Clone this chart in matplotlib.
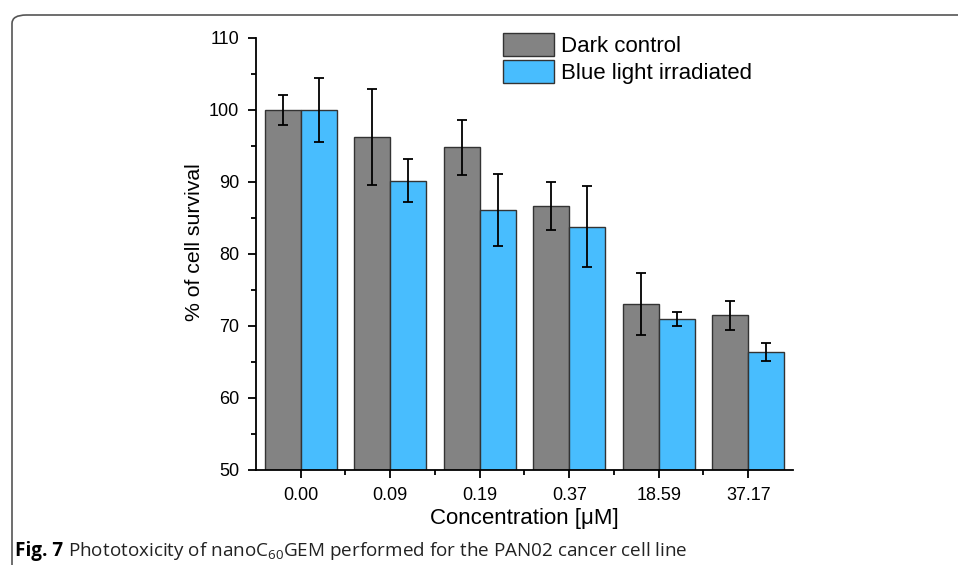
# coding: utf-8

import numpy as np
import matplotlib
matplotlib.use('Agg')
import matplotlib.pyplot as plt
from matplotlib.patches import FancyBboxPatch
from matplotlib import font_manager

concentrations = ['0.00', '0.09', '0.19', '0.37', '18.59', '37.17']
dark = [100.0, 96.2, 94.8, 86.7, 73.0, 71.5]
dark_err = [2.15, 6.65, 3.8, 3.35, 4.3, 2.0]
blue = [100.0, 90.2, 86.1, 83.8, 71.0, 66.4]
blue_err = [4.4, 3.0, 5.0, 5.65, 1.0, 1.25]
series_names = ['Dark control', 'Blue light irradiated']

names = {f.name for f in font_manager.fontManager.ttflist}
caption_font = 'Liberation Sans Narrow' if 'Liberation Sans Narrow' in names else 'Open Sans'

plt.rcParams['font.family'] = ['Liberation Sans', 'DejaVu Sans']
plt.rcParams['mathtext.fontset'] = 'custom'
plt.rcParams['mathtext.rm'] = caption_font
plt.rcParams['mathtext.it'] = caption_font


def main():
    fig = plt.figure(figsize=(9.58, 5.65), dpi=100)
    ax = fig.add_axes([256 / 958, 95 / 565, 537 / 958, 432 / 565])

    x = np.arange(len(concentrations))
    w = 0.40
    ax.bar(x - w / 2, dark, w, color='#838383', edgecolor='#333333',
           linewidth=1.0, label=series_names[0], zorder=2)
    ax.bar(x + w / 2, blue, w, color='#48BDFE', edgecolor='#333333',
           linewidth=1.0, label=series_names[1], zorder=2)
    ax.errorbar(x - w / 2, dark, yerr=dark_err, fmt='none', ecolor='black',
                elinewidth=1.3, capsize=3.6, capthick=1.3, zorder=3)
    ax.errorbar(x + w / 2, blue, yerr=blue_err, fmt='none', ecolor='black',
                elinewidth=1.3, capsize=3.6, capthick=1.3, zorder=3)

    ax.set_xlim(-0.5, 5.5)
    ax.set_ylim(50, 110)
    ax.set_xticks(x)
    ax.set_xticklabels(concentrations)
    ax.set_xticks(x[:-1] + 0.5, minor=True)
    ax.set_yticks(np.arange(50, 111, 10))
    ax.set_yticks(np.arange(55, 110, 10), minor=True)

    for s in ['top', 'right']:
        ax.spines[s].set_visible(False)
    for s in ['left', 'bottom']:
        ax.spines[s].set_linewidth(1.3)
    ax.tick_params(which='major', direction='out', length=6, width=1.3,
                   labelsize=13, pad=6)
    ax.tick_params(which='minor', direction='out', length=3.5, width=1.3)

    ax.set_xlabel('Concentration [\u03bcM]', fontsize=16, labelpad=3)
    ax.set_ylabel('% of cell survival', fontsize=15.3)
    ax.yaxis.set_label_coords(-0.097, 0.528)

    ax.legend(loc='upper left', bbox_to_anchor=(503 / 958, 1 - 33 / 565),
              bbox_transform=fig.transFigure, frameon=False, fontsize=16,
              handlelength=2.3, handleheight=1.2, labelspacing=0.15,
              handletextpad=0.3, borderpad=0, borderaxespad=0)

    # rounded frame around the figure panel
    frame = FancyBboxPatch((12 / 958, -0.2), 1.2, 0.2 + (565 - 15) / 565,
                           boxstyle='round,pad=0,rounding_size=0.015',
                           transform=fig.transFigure, facecolor='none',
                           edgecolor='#555555', linewidth=1.2)
    fig.patches.append(frame)

    fig.text(15 / 958, 1 - 556 / 565, 'Fig. 7', fontsize=13.6, fontweight='bold',
             family=caption_font, va='baseline')
    fig.text(68 / 958, 1 - 556 / 565,
             'Phototoxicity of nanoC$_{60}$GEM performed for the PAN02 cancer cell line',
             fontsize=13.6, family=caption_font, va='baseline', color='#222222')

    fig.savefig('out.png', dpi=100)


if __name__ == '__main__':
    main()
